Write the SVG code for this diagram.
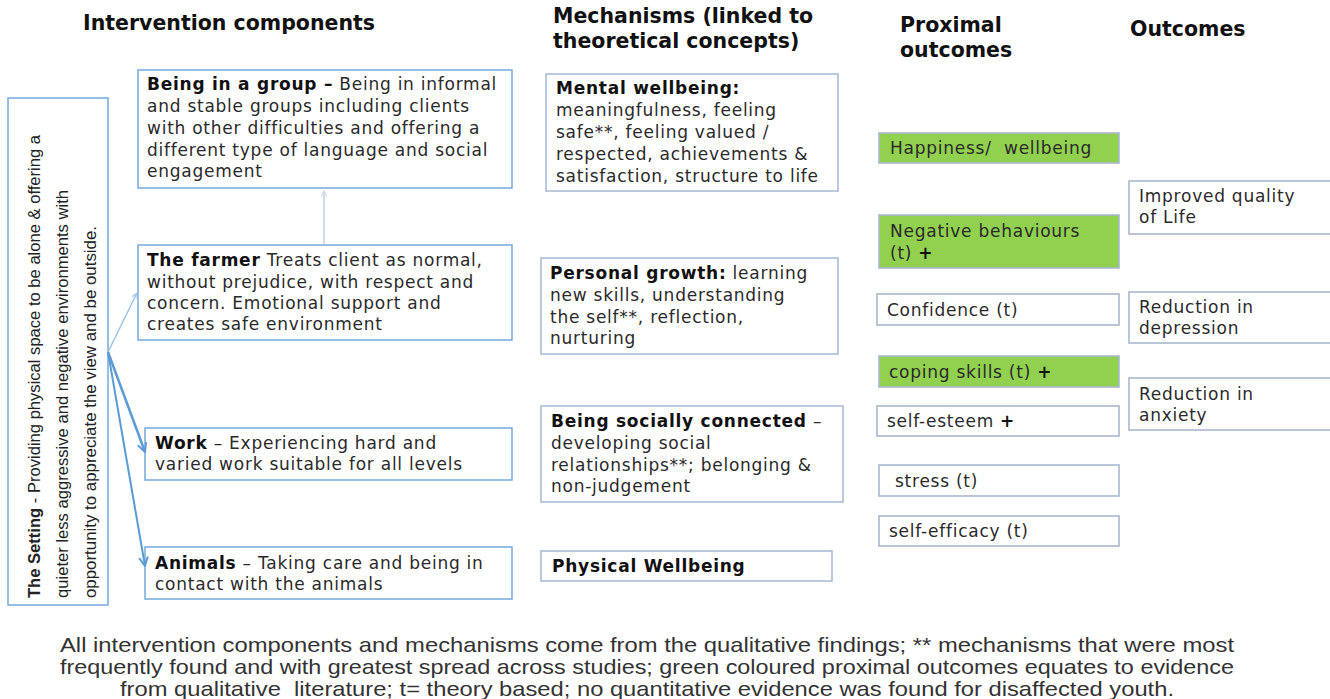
<svg xmlns="http://www.w3.org/2000/svg" width="1330" height="699" viewBox="0 0 1330 699">
<style>
  .hdr{font-family:"DejaVu Sans",Verdana,sans-serif;font-weight:bold;font-size:20.5px;fill:#111}
  .t{font-family:"DejaVu Sans",Verdana,sans-serif;font-size:17px;letter-spacing:0.75px;fill:#2a2a2a;white-space:pre}
  .b{font-weight:bold;fill:#111}
  .bx{fill:#fff;stroke:#7EAEDF;stroke-width:1.6}
  .mb{fill:#fff;stroke:#A9BCD6;stroke-width:1.6}
  .pb{fill:#fff;stroke:#A9B8CF;stroke-width:1.6}
  .gb{fill:#92D050;stroke:#A9B8CF;stroke-width:1.6}
  .set{font-family:"Liberation Sans",Arial,sans-serif;font-size:17px;fill:#222}
  .foot{font-family:"Liberation Sans",Arial,sans-serif;font-size:21px;fill:#333;white-space:pre}
</style>
<defs>
  <marker id="ah" viewBox="0 0 10 10" refX="9" refY="5" markerWidth="7" markerHeight="7" markerUnits="userSpaceOnUse" orient="auto">
    <path d="M1,1 L9,5 L1,9" fill="none" stroke="context-stroke" stroke-width="1.6"/>
  </marker>
  <marker id="ah2" viewBox="0 0 10 10" refX="9" refY="5" markerWidth="11" markerHeight="11" markerUnits="userSpaceOnUse" orient="auto">
    <path d="M1,1 L9,5 L1,9" fill="none" stroke="context-stroke" stroke-width="1.8"/>
  </marker>
</defs>
<rect width="1330" height="699" fill="#fff"/>

<g id="headers">
  <text class="hdr" x="83" y="30">Intervention components</text>
  <text class="hdr" x="553" y="23">Mechanisms (linked to</text>
  <text class="hdr" x="553" y="48">theoretical concepts)</text>
  <text class="hdr" x="900" y="32">Proximal</text>
  <text class="hdr" x="900" y="57">outcomes</text>
  <text class="hdr" x="1130" y="36">Outcomes</text>
</g>

<g id="setting">
  <rect class="bx" x="8" y="98" width="100" height="507"/>
  <g transform="translate(40,598) rotate(-90)">
    <text class="set" x="0" y="0" textLength="463" lengthAdjust="spacingAndGlyphs"><tspan font-weight="bold">The Setting</tspan> - Providing physical space to be alone &amp; offering a</text>
    <text class="set" x="0" y="28" textLength="408" lengthAdjust="spacingAndGlyphs">quieter less aggressive and negative environments with</text>
    <text class="set" x="0" y="56" textLength="372" lengthAdjust="spacingAndGlyphs">opportunity to appreciate the view and be outside.</text>
  </g>
</g>

<g id="group">
  <rect class="bx" x="138" y="70" width="374" height="118"/>
  <text class="t" x="147" y="90"><tspan class="b">Being in a group –</tspan> Being in informal</text>
  <text class="t" x="147" y="112">and stable groups including clients</text>
  <text class="t" x="147" y="134">with other difficulties and offering a</text>
  <text class="t" x="147" y="156">different type of language and social</text>
  <text class="t" x="147" y="177">engagement</text>
</g>

<g id="farmer">
  <rect class="bx" x="138" y="245" width="374" height="95"/>
  <text class="t" x="147" y="266"><tspan class="b">The farmer</tspan> Treats client as normal,</text>
  <text class="t" x="147" y="288">without prejudice, with respect and</text>
  <text class="t" x="147" y="309">concern. Emotional support and</text>
  <text class="t" x="147" y="330">creates safe environment</text>
</g>

<g id="work">
  <rect class="bx" x="145" y="428" width="367" height="52"/>
  <text class="t" x="155" y="449"><tspan class="b">Work</tspan> – Experiencing hard and</text>
  <text class="t" x="155" y="470">varied work suitable for all levels</text>
</g>

<g id="animals">
  <rect class="bx" x="145" y="547" width="367" height="52"/>
  <text class="t" x="155" y="569"><tspan class="b">Animals</tspan> – Taking care and being in</text>
  <text class="t" x="155" y="590">contact with the animals</text>
</g>

<g id="mental">
  <rect class="mb" x="546" y="74" width="292" height="117"/>
  <text class="t" x="556" y="94"><tspan class="b">Mental wellbeing:</tspan></text>
  <text class="t" x="556" y="116">meaningfulness, feeling</text>
  <text class="t" x="556" y="138">safe**, feeling valued /</text>
  <text class="t" x="556" y="160">respected, achievements &amp;</text>
  <text class="t" x="556" y="182">satisfaction, structure to life</text>
</g>

<g id="growth">
  <rect class="mb" x="541" y="258" width="297" height="96"/>
  <text class="t" x="550" y="279"><tspan class="b">Personal growth:</tspan> learning</text>
  <text class="t" x="550" y="301">new skills, understanding</text>
  <text class="t" x="550" y="323">the self**, reflection,</text>
  <text class="t" x="550" y="344">nurturing</text>
</g>

<g id="social">
  <rect class="mb" x="541" y="406" width="302" height="96"/>
  <text class="t" x="551" y="427"><tspan class="b">Being socially connected</tspan> –</text>
  <text class="t" x="551" y="449">developing social</text>
  <text class="t" x="551" y="471">relationships**; belonging &amp;</text>
  <text class="t" x="551" y="492">non-judgement</text>
</g>

<g id="physical">
  <rect class="mb" x="541" y="551" width="291" height="30"/>
  <text class="t" x="552" y="572"><tspan class="b">Physical Wellbeing</tspan></text>
</g>

<g id="happiness">
  <rect class="gb" x="879" y="133" width="240" height="30"/>
  <text class="t" x="890" y="154">Happiness/  wellbeing</text>
</g>
<g id="negative">
  <rect class="gb" x="879" y="215" width="240" height="53"/>
  <text class="t" x="890" y="237">Negative behaviours</text>
  <text class="t" x="890" y="259">(t) <tspan class="b">+</tspan></text>
</g>
<g id="confidence">
  <rect class="pb" x="877" y="294" width="242" height="31"/>
  <text class="t" x="887" y="316">Confidence (t)</text>
</g>
<g id="coping">
  <rect class="gb" x="879" y="356" width="240" height="31"/>
  <text class="t" x="889" y="378">coping skills (t) <tspan class="b">+</tspan></text>
</g>
<g id="selfesteem">
  <rect class="pb" x="877" y="406" width="242" height="30"/>
  <text class="t" x="887" y="427">self-esteem <tspan class="b">+</tspan></text>
</g>
<g id="stress">
  <rect class="pb" x="879" y="465" width="240" height="31"/>
  <text class="t" x="895" y="487">stress (t)</text>
</g>
<g id="selfefficacy">
  <rect class="pb" x="879" y="516" width="240" height="30"/>
  <text class="t" x="889" y="537">self-efficacy (t)</text>
</g>

<g id="quality">
  <rect class="pb" x="1129" y="181" width="205" height="53"/>
  <text class="t" x="1139" y="202">Improved quality</text>
  <text class="t" x="1139" y="223">of Life</text>
</g>
<g id="depression">
  <rect class="pb" x="1129" y="292" width="205" height="51"/>
  <text class="t" x="1139" y="313">Reduction in</text>
  <text class="t" x="1139" y="334">depression</text>
</g>
<g id="anxiety">
  <rect class="pb" x="1129" y="378" width="205" height="52"/>
  <text class="t" x="1139" y="400">Reduction in</text>
  <text class="t" x="1139" y="421">anxiety</text>
</g>

<g id="connectors" fill="none">
  <line x1="324" y1="244" x2="324" y2="191" stroke="#D0DAEA" stroke-width="2" marker-end="url(#ah)"/>
  <line x1="108" y1="352" x2="137" y2="293" stroke="#9DC3E6" stroke-width="1.5" marker-end="url(#ah)"/>
  <line x1="108" y1="352" x2="145" y2="452" stroke="#5B9BD5" stroke-width="2.5" marker-end="url(#ah2)"/>
  <line x1="108" y1="352" x2="145" y2="566" stroke="#5B9BD5" stroke-width="2" marker-end="url(#ah2)"/>
</g>

<g id="footnote">
  <text class="foot" x="60" y="652" textLength="1174" lengthAdjust="spacingAndGlyphs">All intervention components and mechanisms come from the qualitative findings; ** mechanisms that were most</text>
  <text class="foot" x="60" y="674" textLength="1174" lengthAdjust="spacingAndGlyphs">frequently found and with greatest spread across studies; green coloured proximal outcomes equates to evidence</text>
  <text class="foot" x="120" y="696" textLength="1054" lengthAdjust="spacingAndGlyphs">from qualitative  literature; t= theory based; no quantitative evidence was found for disaffected youth.</text>
</g>
</svg>
